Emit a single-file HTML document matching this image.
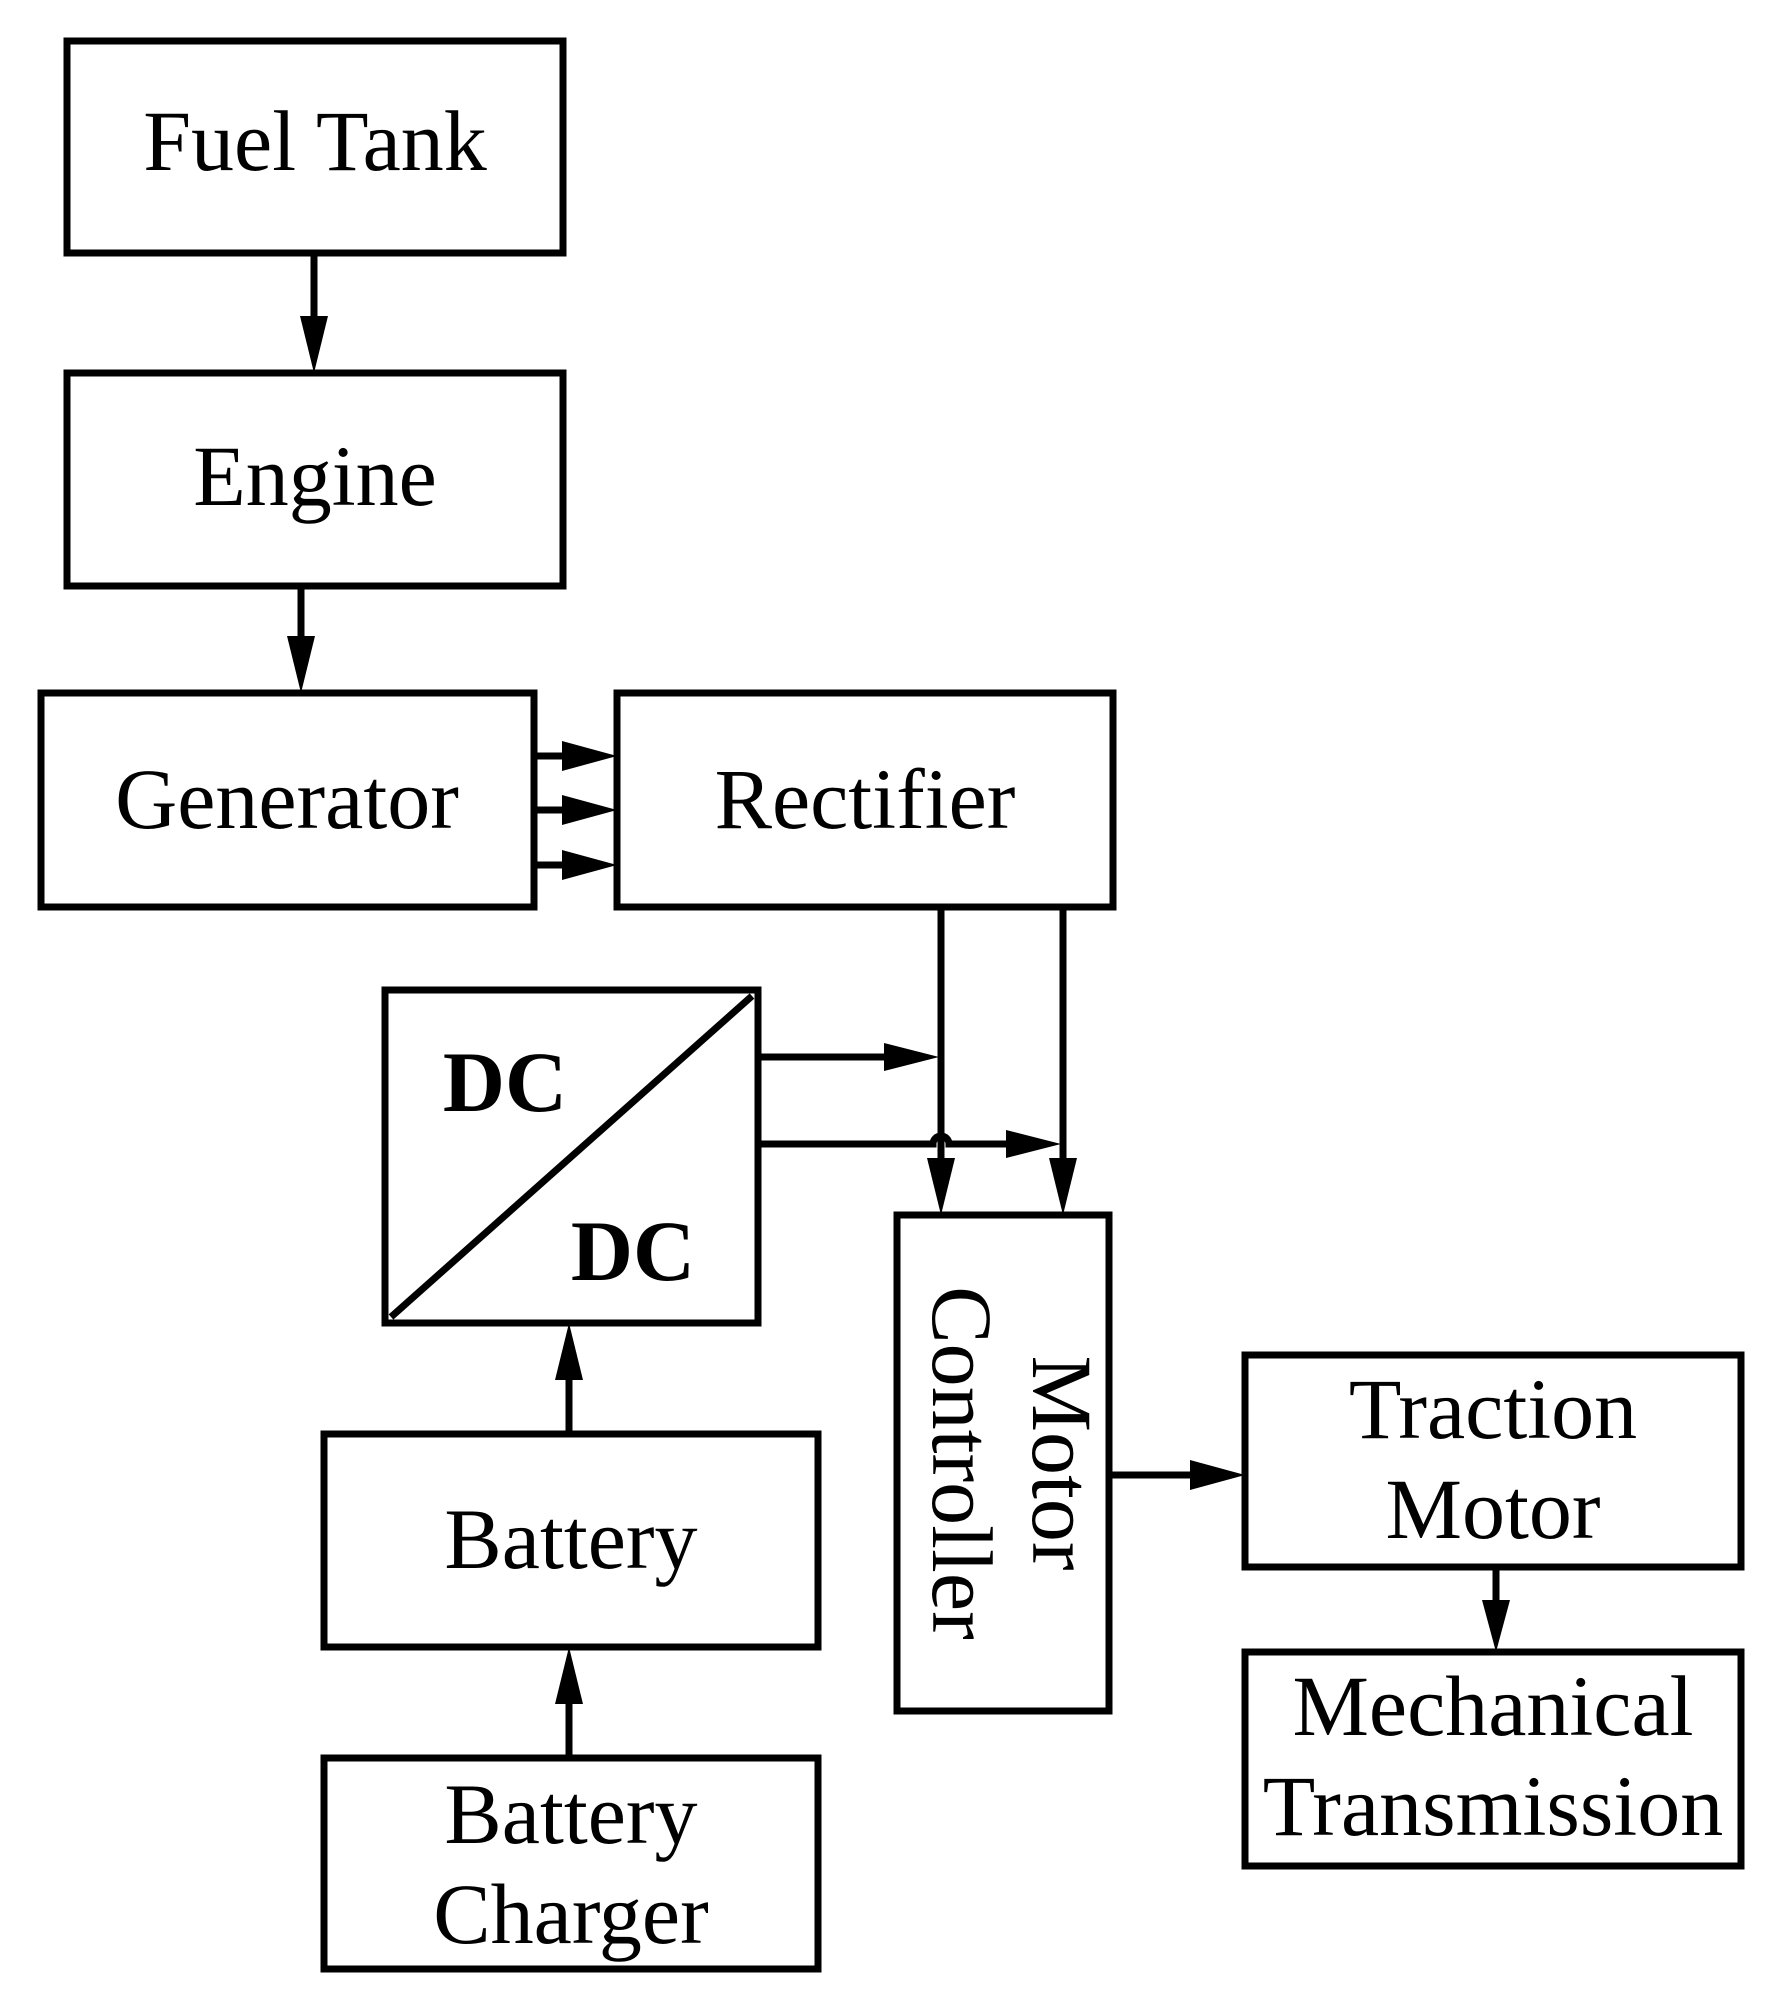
<!DOCTYPE html>
<html><head><style>html,body{margin:0;padding:0;background:#fff}</style></head>
<body>
<svg width="1768" height="1986" viewBox="0 0 1768 1986" xmlns="http://www.w3.org/2000/svg" font-family="Liberation Serif, serif" font-size="86">
<g fill="none" stroke="#000" stroke-width="7">
<rect x="67" y="41" width="496" height="212"/>
<rect x="67" y="373" width="496" height="213"/>
<rect x="41" y="693" width="493" height="214"/>
<rect x="617" y="693" width="496" height="214"/>
<rect x="385" y="990" width="373" height="333"/>
<line x1="391" y1="1317" x2="752" y2="996"/>
<rect x="897" y="1215" width="212" height="496"/>
<rect x="1245" y="1355" width="496" height="212"/>
<rect x="1245" y="1652" width="496" height="214"/>
<rect x="324" y="1434" width="494" height="213"/>
<rect x="324" y="1758" width="494" height="211"/>
<line x1="314" y1="253" x2="314" y2="330"/>
<line x1="301" y1="586" x2="301" y2="650"/>
<line x1="534" y1="756" x2="575" y2="756"/>
<line x1="534" y1="810" x2="575" y2="810"/>
<line x1="534" y1="865" x2="575" y2="865"/>
<line x1="941" y1="907" x2="941" y2="1170"/>
<line x1="1063" y1="907" x2="1063" y2="1170"/>
<line x1="758" y1="1057" x2="895" y2="1057"/>
<path d="M758 1144 H933 A8 8 0 0 1 949 1144 H1020"/>
<line x1="1109" y1="1475" x2="1205" y2="1475"/>
<line x1="1496" y1="1567" x2="1496" y2="1615"/>
<line x1="569" y1="1434" x2="569" y2="1365"/>
<line x1="569" y1="1758" x2="569" y2="1690"/>
</g>
<g fill="#000">
<polygon points="300,316 328,316 314,373"/>
<polygon points="287,636 315,636 301,693"/>
<polygon points="562,741 562,771 617,756"/>
<polygon points="562,795 562,825 617,810"/>
<polygon points="562,850 562,880 617,865"/>
<polygon points="927,1158 955,1158 941,1215"/>
<polygon points="1049,1158 1077,1158 1063,1215"/>
<polygon points="884,1043 884,1071 939,1057"/>
<polygon points="1006,1130 1006,1158 1061,1144"/>
<polygon points="1190,1460 1190,1490 1245,1475"/>
<polygon points="1482,1600 1510,1600 1496,1652"/>
<polygon points="555,1380 583,1380 569,1323"/>
<polygon points="555,1704 583,1704 569,1647"/>
</g>
<g text-anchor="middle" fill="#000">
<text x="315" y="170">Fuel Tank</text>
<text x="315" y="505">Engine</text>
<text x="287" y="828">Generator</text>
<text x="865" y="828">Rectifier</text>
<text x="571" y="1568">Battery</text>
<text x="571" y="1843">Battery</text>
<text x="571" y="1943">Charger</text>
<text x="1493" y="1438">Traction</text>
<text x="1493" y="1538">Motor</text>
<text x="1493" y="1735">Mechanical</text>
<text x="1493" y="1835">Transmission</text>
<text x="505" y="1111" font-weight="bold">DC</text>
<text x="633" y="1280" font-weight="bold">DC</text>
<g transform="translate(1003,1463) rotate(90)">
<text x="0" y="-30">Motor</text>
<text x="0" y="70">Controller</text>
</g>
</g>
</svg>
</body></html>
